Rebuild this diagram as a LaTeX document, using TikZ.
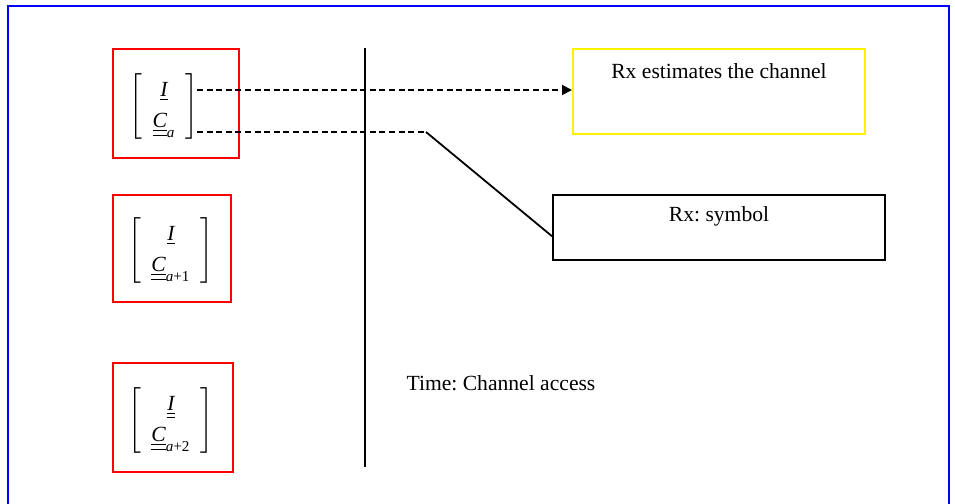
\documentclass[tikz,border=0pt]{standalone}
\usepackage{amsmath}
\usepackage{fontspec}
\setmainfont{Liberation Serif}
\usepackage{tikz}
\usetikzlibrary{arrows.meta, positioning, calc}
\usepackage{xcolor}
\frenchspacing

% symbol vector shown in each slot
\newcommand{\slotvec}[2]{\renewcommand{\arraystretch}{1.2}$\left[\begin{array}{c}#1\\ \underline{\underline{\textit{C}}}_{\text{\textit{a}#2}}\end{array}\right]$}

\begin{document}
\begin{tikzpicture}[
    x=0.5pt, y=-0.5pt,
    font=\fontsize{10.8}{13}\selectfont,
    slot/.style={rectangle, draw=red, line width=1pt, inner sep=0pt},
    estbox/.style={rectangle, draw=yellow, line width=1pt, minimum width=146pt, minimum height=42.5pt, inner sep=0pt},
    symbox/.style={rectangle, draw, line width=1pt, minimum width=166pt, minimum height=32.5pt, inner sep=0pt},
    vec/.style={inner sep=0pt},
    dline/.style={dash pattern=on 3pt off 1.8pt, line width=0.9pt},
    arrow/.style={dline, -{Triangle[length=5pt, width=5pt]}},
    line/.style={line width=0.9pt}
]
    \useasboundingbox (0,0) rectangle (955,504);
    % Frame
    \draw[blue, line width=1pt] (8,504) |- (949,6) -- (949,504);

    % Nodes
    \node[slot, minimum width=63pt, minimum height=54.5pt] (slota) at (176,103.5) {};
    \node[slot, minimum width=59pt, minimum height=53.5pt] (slotb) at (172,248.5) {};
    \node[slot, minimum width=60pt, minimum height=54.5pt] (slotc) at (173,417.5) {};
    \node[vec] (veca) at (164,106) {\slotvec{\underline{\textit{I}}}{}};
    \node[vec] (vecb) at (171,250) {\slotvec{\underline{\textit{I}}}{+1}};
    \node[vec] (vecc) at (171,420) {\slotvec{\underline{\underline{\textit{I}}}}{+2}};

    \node[estbox] (est) at (719,91.5) {};
    \node[below=11.5pt of est.north, anchor=center] (esttext) {Rx estimates the channel};
    \node[symbox] (sym) at (719,227.5) {};
    \node[below=11pt of sym.north, anchor=center] (symtext) {Rx: symbol};
    \node (time) at (501,383) {Time: Channel access};

    % Time axis
    \coordinate (ttop) at (365,48);
    \coordinate (tbot) at (365,467);
    \draw[line] (ttop) -- (tbot);

    % Arrows
    \coordinate (rowi) at (197,90);
    \coordinate (rowc) at (197,132);
    \coordinate (bend) at (426,132);
    \draw[arrow] (rowi) -- (rowi -| est.west);
    \draw[dline] (rowc) -- (bend);
    \draw[line] (bend) -- ($(sym.north west)!0.63!(sym.south west)$);
\end{tikzpicture}
\end{document}
